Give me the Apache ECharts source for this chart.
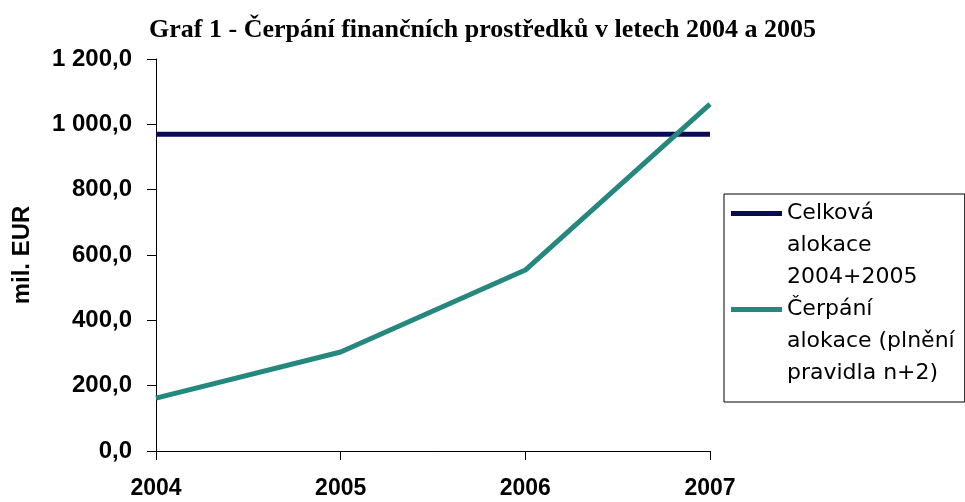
<!DOCTYPE html>
<html>
<head>
<meta charset="utf-8">
<script src="https://cdn.jsdelivr.net/npm/echarts@6/dist/echarts.min.js"></script>
<style>
html, body { margin: 0; padding: 0; background: #fff; }
#chart { width: 965px; height: 502px; }
</style>
</head>
<body>
<div id="chart"></div>
<script>
// data
var years = ['2004', '2005', '2006', '2007'];
var alokace = [970, 970, 970, 970];
var cerpani = [162, 303, 554, 1062];
var seriesNames = ['Celková\nalokace\n2004+2005', 'Čerpání\nalokace (plnění\npravidla n+2)'];
var seriesColors = ['#0b0b55', '#25877d'];

function fmt (v) {
	var s = v.toFixed(1).replace('.', ',');
	var p = s.split(',');
	p[0] = p[0].replace(/\B(?=(\d{3})+(?!\d))/g, ' ');
	return p[0] + ',' + p[1];
}

var cc = echarts.init(document.getElementById('chart'));
var op = {
	animation: false,
	title: {
		text: 'Graf 1 - Čerpání finančních prostředků v letech 2004 a 2005',
		left: 'center',
		top: 17,
		padding: 0,
		textStyle: {
			fontFamily: 'Liberation Serif',
			fontWeight: 'bold',
			fontSize: 26,
			color: '#000'
		}
	},
	grid: { left: 156, right: 255, top: 59, bottom: 51 },
	legend: {
		orient: 'vertical',
		left: 724,
		top: 194,
		padding: [3, 10, 13, 7],
		itemGap: 0,
		itemWidth: 51,
		itemHeight: 96,
		// line at the height of the first text row
		icon: 'path://M0,0M0,96M0,14H51V19H0Z',
		borderColor: '#000',
		borderWidth: 1,
		textStyle: {
			fontFamily: 'DejaVu Sans',
			fontSize: 22,
			lineHeight: 32,
			color: '#000'
		},
		data: [
			{ name: seriesNames[0], itemStyle: { color: seriesColors[0] } },
			{ name: seriesNames[1], itemStyle: { color: seriesColors[1] } }
		]
	},
	xAxis: {
		type: 'category',
		data: years,
		boundaryGap: false,
		axisLine: { lineStyle: { color: '#000', width: 1 } },
		axisTick: { show: true, length: 9, alignWithLabel: true, lineStyle: { color: '#000' } },
		axisLabel: {
			margin: 26,
			fontFamily: 'Liberation Sans',
			fontWeight: 'bold',
			fontSize: 23,
			color: '#000'
		},
		splitLine: { show: false }
	},
	yAxis: {
		type: 'value',
		min: 0,
		max: 1200,
		interval: 200,
		name: 'mil. EUR',
		nameLocation: 'middle',
		nameGap: 122,
		nameRotate: 90,
		nameTextStyle: {
			fontFamily: 'Liberation Sans',
			fontWeight: 'bold',
			fontSize: 24,
			color: '#000'
		},
		axisLine: { show: true, lineStyle: { color: '#000', width: 1 } },
		axisTick: { show: true, length: 9, lineStyle: { color: '#000' } },
		axisLabel: {
			margin: 24,
			formatter: fmt,
			fontFamily: 'Liberation Sans',
			fontWeight: 'bold',
			fontSize: 24,
			color: '#000'
		},
		splitLine: { show: false }
	},
	series: [
		{
			name: seriesNames[0],
			type: 'line',
			data: alokace,
			symbol: 'none',
			color: seriesColors[0],
			lineStyle: { width: 5, color: seriesColors[0] }
		},
		{
			name: seriesNames[1],
			type: 'line',
			data: cerpani,
			symbol: 'none',
			color: seriesColors[1],
			lineStyle: { width: 5, color: seriesColors[1] }
		}
	]
};
cc.setOption(op);
</script>
</body>
</html>
